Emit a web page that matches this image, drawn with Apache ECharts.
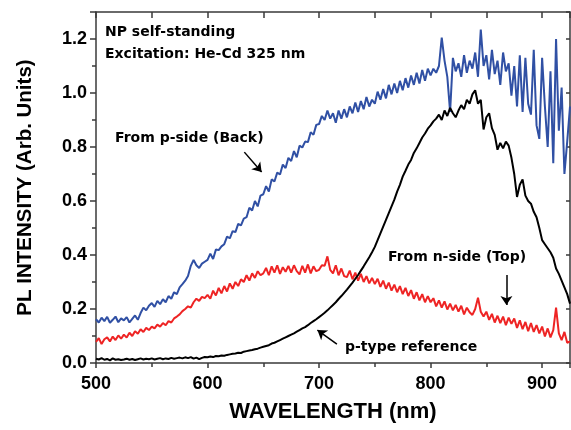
<!DOCTYPE html>
<html>
<head>
<meta charset="utf-8">
<script src="https://cdn.jsdelivr.net/npm/echarts@6/dist/echarts.min.js"></script>
<style>
html, body { margin: 0; padding: 0; background: #fff; }
#chart { width: 571px; height: 430px; }
</style>
</head>
<body>
<div id="chart"></div>
<script>
// wavelength sampling of the spectra (nm)
const wlStart = 500
const wlStep = 2.5

// From p-side (Back)
const blueBack = [
  0.162, 0.150, 0.168, 0.155, 0.171, 0.149, 0.160, 0.172, 0.151, 0.165,
  0.158, 0.170, 0.150, 0.163, 0.176, 0.160, 0.185, 0.205, 0.195, 0.212,
  0.222, 0.208, 0.230, 0.218, 0.236, 0.225, 0.248, 0.238, 0.262, 0.255,
  0.280, 0.292, 0.305, 0.322, 0.360, 0.382, 0.362, 0.352, 0.368, 0.375,
  0.382, 0.405, 0.385, 0.420, 0.418, 0.432, 0.440, 0.468, 0.462, 0.488,
  0.485, 0.515, 0.510, 0.535, 0.540, 0.575, 0.565, 0.600, 0.580, 0.620,
  0.625, 0.655, 0.635, 0.680, 0.672, 0.705, 0.698, 0.735, 0.722, 0.760,
  0.748, 0.785, 0.762, 0.805, 0.798, 0.820, 0.818, 0.855, 0.845, 0.882,
  0.885, 0.915, 0.900, 0.935, 0.905, 0.925, 0.890, 0.935, 0.905, 0.940,
  0.910, 0.950, 0.925, 0.965, 0.930, 0.970, 0.940, 0.985, 0.950, 0.975,
  0.960, 1.005, 0.975, 1.015, 0.980, 1.030, 0.995, 1.035, 1.000, 1.045,
  1.010, 1.055, 1.020, 1.065, 1.030, 1.075, 1.035, 1.085, 1.045, 1.090,
  1.065, 1.090, 1.075, 1.100, 1.205, 1.120, 1.060, 0.930, 1.130, 1.080,
  1.110, 1.060, 1.140, 1.075, 1.120, 1.090, 1.150, 1.060, 1.235, 1.100,
  1.140, 1.050, 1.160, 1.070, 1.120, 1.030, 1.150, 1.080, 1.110, 0.990,
  1.100, 0.950, 1.140, 0.930, 1.130, 0.960, 0.920, 1.160, 0.880, 0.830,
  1.130, 0.950, 0.800, 1.080, 0.740, 1.200, 0.860, 1.020, 0.700, 0.820,
  0.950
]

// From n-side (Top)
const redTop = [
  0.078, 0.092, 0.070, 0.088, 0.095, 0.080, 0.098, 0.085, 0.102, 0.090,
  0.105, 0.094, 0.112, 0.100, 0.118, 0.108, 0.125, 0.115, 0.130, 0.122,
  0.135, 0.128, 0.142, 0.135, 0.148, 0.140, 0.155, 0.150, 0.165, 0.172,
  0.180, 0.192, 0.200, 0.210, 0.205, 0.225, 0.238, 0.230, 0.245, 0.240,
  0.252, 0.238, 0.268, 0.250, 0.278, 0.258, 0.285, 0.265, 0.295, 0.275,
  0.300, 0.285, 0.310, 0.300, 0.325, 0.305, 0.332, 0.315, 0.340, 0.325,
  0.332, 0.352, 0.325, 0.358, 0.335, 0.362, 0.330, 0.355, 0.338, 0.360,
  0.335, 0.362, 0.340, 0.328, 0.360, 0.335, 0.365, 0.332, 0.358, 0.340,
  0.345, 0.362, 0.360, 0.395, 0.345, 0.332, 0.362, 0.325, 0.350, 0.322,
  0.318, 0.342, 0.310, 0.335, 0.305, 0.330, 0.300, 0.322, 0.295, 0.315,
  0.292, 0.312, 0.282, 0.305, 0.275, 0.298, 0.268, 0.290, 0.262, 0.285,
  0.255, 0.278, 0.248, 0.270, 0.238, 0.262, 0.232, 0.255, 0.225, 0.248,
  0.225, 0.240, 0.210, 0.232, 0.205, 0.228, 0.198, 0.220, 0.195, 0.215,
  0.190, 0.212, 0.180, 0.205, 0.188, 0.178, 0.200, 0.242, 0.190, 0.172,
  0.190, 0.160, 0.182, 0.150, 0.175, 0.148, 0.172, 0.140, 0.168, 0.145,
  0.165, 0.130, 0.158, 0.125, 0.152, 0.118, 0.148, 0.115, 0.140, 0.110,
  0.135, 0.098, 0.128, 0.095, 0.122, 0.205, 0.110, 0.085, 0.115, 0.075,
  0.080
]

// p-type reference
const blackRef = [
  0.016, 0.013, 0.018, 0.012, 0.015, 0.010, 0.017, 0.012, 0.014, 0.011,
  0.013, 0.016, 0.012, 0.015, 0.011, 0.014, 0.017, 0.013, 0.016, 0.014,
  0.017, 0.013, 0.016, 0.018, 0.014, 0.017, 0.015, 0.019, 0.016, 0.018,
  0.020, 0.017, 0.021, 0.018, 0.022, 0.016, 0.020, 0.014, 0.019, 0.022,
  0.021, 0.024, 0.022, 0.026, 0.025, 0.028, 0.027, 0.030, 0.032, 0.034,
  0.035, 0.038, 0.037, 0.042, 0.044, 0.046, 0.048, 0.051, 0.053, 0.057,
  0.060, 0.063, 0.066, 0.072, 0.075, 0.080, 0.085, 0.090, 0.095, 0.100,
  0.105, 0.110, 0.116, 0.122, 0.128, 0.133, 0.140, 0.148, 0.155, 0.162,
  0.170, 0.178, 0.186, 0.195, 0.205, 0.215, 0.225, 0.237, 0.248, 0.260,
  0.272, 0.285, 0.298, 0.312, 0.326, 0.342, 0.358, 0.375, 0.392, 0.410,
  0.430, 0.455, 0.480, 0.505, 0.530, 0.555, 0.580, 0.605, 0.635, 0.660,
  0.690, 0.712, 0.735, 0.752, 0.778, 0.795, 0.815, 0.835, 0.850, 0.868,
  0.880, 0.895, 0.905, 0.920, 0.900, 0.935, 0.915, 0.945, 0.925, 0.910,
  0.935, 0.955, 0.940, 0.975, 0.960, 0.995, 1.010, 0.960, 0.975, 0.865,
  0.910, 0.925, 0.870, 0.845, 0.790, 0.815, 0.795, 0.820, 0.805, 0.760,
  0.700, 0.615, 0.660, 0.680, 0.620, 0.600, 0.590, 0.560, 0.540, 0.500,
  0.455, 0.440, 0.425, 0.410, 0.390, 0.350, 0.330, 0.305, 0.280, 0.255,
  0.220
]

// annotation arrows, [x, y] in data units: tail, head
const arrowBack = [[633, 0.781], [648.5, 0.707]]
const arrowTop = [[868, 0.326], [868, 0.215]]
const arrowRef = [[716, 0.070], [698.5, 0.122]]

const toPairs = (vals) => vals.map((v, i) => [wlStart + i * wlStep, v])

const axisColor = '#3a3a3a'
const labelFont = { fontFamily: 'Liberation Sans, Arial', fontWeight: 'bold', color: '#000' }
const noteFont = 'bold 14px "DejaVu Sans"'

const arrowLine = (pts) => ({
  silent: true,
  animation: false,
  symbol: ['none', 'arrow'],
  symbolSize: 9,
  label: { show: false },
  emphasis: { disabled: true },
  lineStyle: { color: '#000', width: 1.5, type: 'solid', opacity: 1 },
  itemStyle: { color: '#000' },
  data: [[{ coord: pts[0] }, { coord: pts[1] }]]
})

const chart = echarts.init(document.getElementById('chart'))
chart.setOption({
  animation: false,
  backgroundColor: '#fff',
  grid: { left: 96, right: 1, top: 12, bottom: 67 },
  xAxis: [
    {
      type: 'value',
      position: 'bottom',
      min: 500,
      max: 925,
      interval: 100,
      name: 'WAVELENGTH (nm)',
      nameLocation: 'middle',
      nameGap: 38,
      nameTextStyle: { ...labelFont, fontSize: 22 },
      axisLine: { show: true, onZero: false, lineStyle: { color: axisColor, width: 1.5 } },
      axisTick: { show: true, inside: false, length: 5, lineStyle: { color: axisColor, width: 1.5 } },
      minorTick: { show: true, splitNumber: 2, length: 4, lineStyle: { color: axisColor, width: 1.5 } },
      axisLabel: { ...labelFont, fontSize: 18, margin: 12, showMaxLabel: false },
      splitLine: { show: false },
      minorSplitLine: { show: false }
    },
    {
      type: 'value',
      position: 'top',
      min: 500,
      max: 925,
      interval: 50,
      axisLine: { show: true, onZero: false, lineStyle: { color: axisColor, width: 1.5 } },
      axisTick: { show: true, inside: true, length: 6, lineStyle: { color: axisColor, width: 1.5 } },
      axisLabel: { show: false },
      splitLine: { show: false }
    }
  ],
  yAxis: [
    {
      type: 'value',
      position: 'left',
      min: 0,
      max: 1.3,
      interval: 0.2,
      name: 'PL INTENSITY (Arb. Units)',
      nameLocation: 'middle',
      nameGap: 60,
      nameTextStyle: { ...labelFont, fontSize: 20.5 },
      axisLine: { show: true, onZero: false, lineStyle: { color: axisColor, width: 1.5 } },
      axisTick: { show: true, inside: false, length: 6, lineStyle: { color: axisColor, width: 1.5 } },
      minorTick: { show: true, splitNumber: 2, length: 4, lineStyle: { color: axisColor, width: 1.5 } },
      axisLabel: {
        ...labelFont,
        fontSize: 18,
        margin: 9,
        showMaxLabel: false,
        formatter: (v) => (v > 1.25 ? '' : v.toFixed(1))
      },
      splitLine: { show: false },
      minorSplitLine: { show: false }
    },
    {
      type: 'value',
      position: 'right',
      min: 0,
      max: 1.3,
      interval: 0.2,
      axisLine: { show: true, onZero: false, lineStyle: { color: axisColor, width: 1.5 } },
      axisTick: { show: true, inside: true, length: 4, lineStyle: { color: axisColor, width: 1.5 } },
      axisLabel: { show: false },
      splitLine: { show: false }
    }
  ],
  series: [
    {
      name: 'From n-side (Top)',
      type: 'line',
      data: toPairs(redTop),
      showSymbol: false,
      lineStyle: { color: '#ee2424', width: 2 },
      markLine: arrowLine(arrowTop)
    },
    {
      name: 'From p-side (Back)',
      type: 'line',
      data: toPairs(blueBack),
      showSymbol: false,
      lineStyle: { color: '#3050a4', width: 2 },
      markLine: arrowLine(arrowBack)
    },
    {
      name: 'p-type reference',
      type: 'line',
      data: toPairs(blackRef),
      showSymbol: false,
      lineStyle: { color: '#000', width: 2 },
      markLine: arrowLine(arrowRef)
    }
  ],
  graphic: [
    { type: 'text', left: 105, top: 25, style: { text: 'NP self-standing', font: noteFont, fill: '#000' } },
    { type: 'text', left: 105, top: 47, style: { text: 'Excitation: He-Cd 325 nm', font: noteFont, fill: '#000' } },
    { type: 'text', left: 115, top: 131, style: { text: 'From p-side (Back)', font: noteFont, fill: '#000' } },
    { type: 'text', left: 388, top: 250, style: { text: 'From n-side (Top)', font: noteFont, fill: '#000' } },
    { type: 'text', left: 345, top: 340, style: { text: 'p-type reference', font: noteFont, fill: '#000' } }
  ]
})
</script>
</body>
</html>
